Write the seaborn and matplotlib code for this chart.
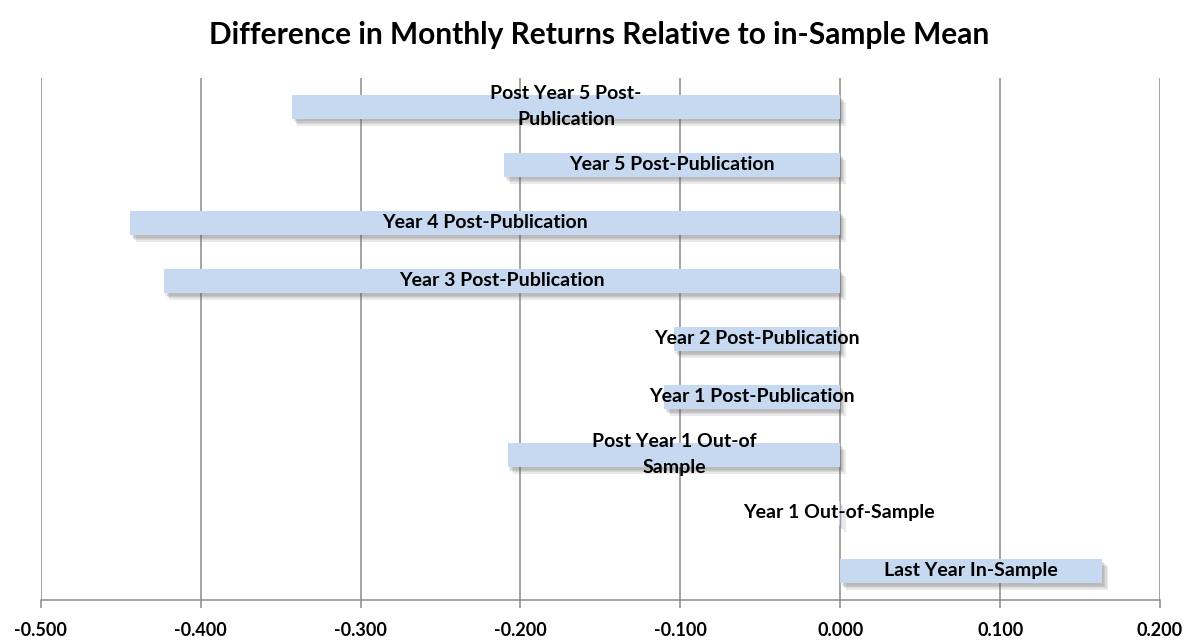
import matplotlib
matplotlib.use("Agg")
import matplotlib.pyplot as plt
import matplotlib.patheffects as pe
import seaborn as sns
import pandas as pd

# categories top to bottom, and their values
categories = [
    "Post Year 5 Post-\nPublication",
    "Year 5 Post-Publication",
    "Year 4 Post-Publication",
    "Year 3 Post-Publication",
    "Year 2 Post-Publication",
    "Year 1 Post-Publication",
    "Post Year 1 Out-of\nSample",
    "Year 1 Out-of-Sample",
    "Last Year In-Sample",
]
values = [-0.343, -0.210, -0.444, -0.423, -0.104, -0.110, -0.208, -0.001, 0.164]
x_ticks = [-0.5, -0.4, -0.3, -0.2, -0.1, 0.0, 0.1, 0.2]

df = pd.DataFrame({"label": categories, "diff": values})

sns.set_style("white")
plt.rcParams["font.family"] = ["Lato", "DejaVu Sans"]

fig, ax = plt.subplots(figsize=(11.99, 6.43), dpi=100)
fig.subplots_adjust(left=0.034, right=0.9675, top=0.879, bottom=0.067)

sns.barplot(data=df, x="diff", y="label", order=categories, orient="h",
            color="#c6d9f1", saturation=1, width=0.41, linewidth=0, ax=ax, zorder=3)

# soft drop shadow, built from a few offset layers
shadow = [pe.SimplePatchShadow(offset=(o, -o - 1), shadow_rgbFace="#606060", alpha=0.13)
          for o in (1, 2, 3, 4)]
for bar in ax.patches:
    bar.set_path_effects(shadow + [pe.Normal()])

# labels at bar centres
for i, (lab, v) in enumerate(zip(categories, values)):
    ax.text(v / 2, i, lab, ha="center", va="center", fontsize=14,
            fontweight="bold", color="black", zorder=5, linespacing=1.65)

ax.set_xlim(-0.5, 0.2)
ax.set_xticks(x_ticks)
ax.set_xticklabels([f"{t:.3f}" for t in x_ticks], fontsize=13, fontweight="bold", color="black")
ax.set_yticks([])
ax.set_ylabel("")
ax.set_xlabel("")
ax.xaxis.grid(True, color="#8c8c8c", linewidth=1.1, zorder=0)
ax.set_axisbelow(True)

for s in ["top", "left", "right"]:
    ax.spines[s].set_visible(False)
ax.spines["bottom"].set_color("#8c8c8c")
ax.spines["bottom"].set_linewidth(1.1)
ax.tick_params(axis="x", length=6, color="#8c8c8c", width=1.1, pad=10, bottom=True)

fig.suptitle("Difference in Monthly Returns Relative to in-Sample Mean",
             fontsize=21.5, fontweight="bold", color="black", y=0.968)

fig.savefig("out.png", dpi=100)
